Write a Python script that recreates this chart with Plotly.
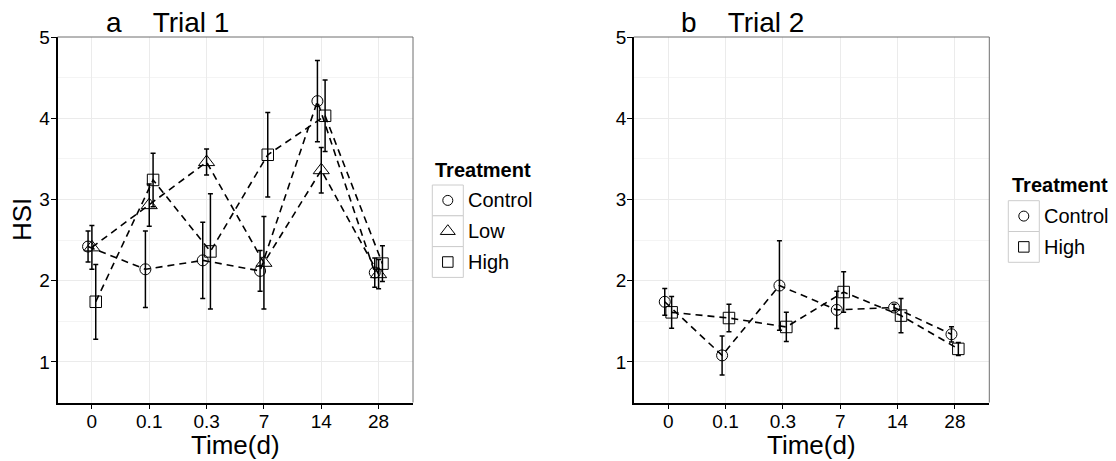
import plotly.graph_objects as go

# ---- data -------------------------------------------------------------
times = ["0", "0.1", "0.3", "7", "14", "28"]

# Trial 1 (mean HSI and error)
t1_control = [2.42, 2.14, 2.25, 2.12, 4.21, 2.10]
t1_control_err = [0.19, 0.47, 0.47, 0.25, 0.50, 0.18]
t1_low = [2.41, 2.93, 3.46, 2.22, 3.36, 2.08]
t1_low_err = [0.27, 0.26, 0.16, 0.57, 0.28, 0.18]
t1_high = [1.74, 3.24, 2.36, 3.55, 4.03, 2.21]
t1_high_err = [0.46, 0.33, 0.71, 0.52, 0.44, 0.22]

# Trial 2 (mean HSI and error)
t2_control = [1.74, 1.08, 1.94, 1.64, 1.67, 1.34]
t2_control_err = [0.165, 0.24, 0.55, 0.23, 0.04, 0.094]
t2_high = [1.61, 1.54, 1.43, 1.86, 1.57, 1.16]
t2_high_err = [0.195, 0.17, 0.18, 0.25, 0.21, 0.08]

# ---- geometry helpers (pixel -> paper) --------------------------------
W, H = 1116, 461
FONT = "Liberation Sans, Arial, Helvetica, sans-serif"


def px(x):
    return x / W


def py(y):
    return 1 - y / H


Y_DOM = [py(402.5), py(37.0)]
XA_DOM = [px(57.5), px(413.0)]
XB_DOM = [px(633.8), px(989.3)]

SYMBOLS = {"Control": "circle-open", "Low": "triangle-up-open", "High": "square-open"}
SIZES = {"Control": 11, "Low": 14, "High": 11.5}
DASH = "7px,5px"

fig = go.Figure()


def add_series(name, means, errs, offset, xref, yref):
    xs = [i + offset for i in range(len(times))]
    fig.add_trace(go.Scatter(
        x=xs, y=means, name=name, mode="lines+markers",
        xaxis=xref, yaxis=yref, showlegend=False,
        line=dict(color="black", width=1.6, dash=DASH),
        marker=dict(symbol=SYMBOLS[name], size=SIZES[name],
                    color="black", line=dict(color="black", width=1)),
        error_y=dict(type="data", array=errs, visible=True,
                     color="black", thickness=1.5, width=2.5),
        cliponaxis=False,
    ))


# Trial 1: three treatments dodged around each time point
add_series("Control", t1_control, t1_control_err, -0.067, "x", "y")
add_series("Low", t1_low, t1_low_err, 0.0, "x", "y")
add_series("High", t1_high, t1_high_err, 0.067, "x", "y")

# Trial 2: two treatments
add_series("Control", t2_control, t2_control_err, -0.06, "x2", "y2")
add_series("High", t2_high, t2_high_err, 0.06, "x2", "y2")

# ---- legends drawn on a full-figure pixel axis -----------------------
legend_specs = [
    dict(box_x0=432.3, title_x=433.0, title_y=170.0, row0=185.0,
         names=["Control", "Low", "High"]),
    dict(box_x0=1008.3, title_x=1009.5, title_y=185.5, row0=200.7,
         names=["Control", "High"]),
]
KEY_W, KEY_H = 31.0, 30.8

shapes = []
annotations = []
for spec in legend_specs:
    annotations.append(dict(
        text="<b>Treatment</b>", x=px(spec["title_x"]), y=py(spec["title_y"]),
        xref="paper", yref="paper", xanchor="left", yanchor="middle",
        showarrow=False, font=dict(family=FONT, size=20, color="black")))
    for k, name in enumerate(spec["names"]):
        top = spec["row0"] + k * KEY_H
        shapes.append(dict(
            type="rect", xref="paper", yref="paper",
            x0=px(spec["box_x0"]), x1=px(spec["box_x0"] + KEY_W),
            y0=py(top + KEY_H), y1=py(top),
            line=dict(color="#CCCCCC", width=1), fillcolor="white",
            layer="below"))
        cx, cy = spec["box_x0"] + KEY_W / 2, top + KEY_H / 2
        fig.add_trace(go.Scatter(
            x=[cx], y=[cy], mode="markers", xaxis="x3", yaxis="y3",
            showlegend=False, hoverinfo="skip",
            marker=dict(symbol=SYMBOLS[name], size=SIZES[name] - 1,
                        color="black", line=dict(color="black", width=1))))
        annotations.append(dict(
            text=name, x=px(spec["box_x0"] + KEY_W + 3), y=py(cy),
            xref="paper", yref="paper", xanchor="left", yanchor="middle",
            showarrow=False, font=dict(family=FONT, size=20, color="black")))

# panel titles
annotations.append(dict(
    text="a\u00a0\u00a0\u00a0\u00a0Trial 1", x=px(103.5), y=py(22.5),
    xref="paper", yref="paper", xanchor="left", yanchor="middle",
    showarrow=False, font=dict(family=FONT, size=28, color="black")))
annotations.append(dict(
    text="b\u00a0\u00a0\u00a0\u00a0Trial 2", x=px(679.0), y=py(22.5),
    xref="paper", yref="paper", xanchor="left", yanchor="middle",
    showarrow=False, font=dict(family=FONT, size=28, color="black")))

# axis titles
for x0, x1 in (XA_DOM, XB_DOM):
    annotations.append(dict(
        text="Time(d)", x=(x0 + x1) / 2, y=py(444.5),
        xref="paper", yref="paper", xanchor="center", yanchor="middle",
        showarrow=False, font=dict(family=FONT, size=26, color="black")))
annotations.append(dict(
    text="HSI", x=px(22.0), y=py(220.0), textangle=-90,
    xref="paper", yref="paper", xanchor="center", yanchor="middle",
    showarrow=False, font=dict(family=FONT, size=26, color="black")))

# grey top/right panel borders
for xd in ("x", "x2"):
    yd = "y" if xd == "x" else "y2"
    for (a0, b0, a1, b1) in ((0, 1, 1, 1), (1, 0, 1, 1)):
        shapes.append(dict(
            type="line", xref=f"{xd} domain", yref=f"{yd} domain",
            x0=a0, y0=b0, x1=a1, y1=b1,
            line=dict(color="#6E6E6E", width=1)))

x_common = dict(
    range=[-0.6, 5.6], tickmode="array", tickvals=list(range(len(times))),
    ticktext=times, showgrid=True, gridcolor="#EBEBEB", gridwidth=1,
    zeroline=False, showline=True, linecolor="black", linewidth=1.5,
    ticks="outside", ticklen=5, tickwidth=1.2, tickcolor="black",
    ticklabelstandoff=-4,
    tickfont=dict(family=FONT, size=19, color="black"), fixedrange=True,
    automargin=False)
y_common = dict(
    range=[0.5, 5.0], tick0=0, dtick=1, showgrid=True, gridcolor="#EBEBEB",
    gridwidth=1, zeroline=False, showline=True, linecolor="black",
    linewidth=1.5, ticks="outside", ticklen=5, tickwidth=1.2,
    tickcolor="black", ticklabelstandoff=-3,
    tickfont=dict(family=FONT, size=19, color="black"),
    minor=dict(dtick=0.5, tick0=0, showgrid=True, gridcolor="#F4F4F4",
               gridwidth=1, ticks=""),
    fixedrange=True, automargin=False)

fig.update_layout(
    width=W, height=H,
    margin=dict(l=0, r=0, t=0, b=0, pad=0, autoexpand=False),
    paper_bgcolor="white", plot_bgcolor="rgba(0,0,0,0)",
    showlegend=False,
    xaxis=dict(domain=XA_DOM, anchor="y", **x_common),
    yaxis=dict(domain=Y_DOM, anchor="x", **y_common),
    xaxis2=dict(domain=XB_DOM, anchor="y2", **x_common),
    yaxis2=dict(domain=Y_DOM, anchor="x2", **y_common),
    xaxis3=dict(domain=[0, 1], range=[0, W], visible=False, anchor="y3",
                fixedrange=True, automargin=False),
    yaxis3=dict(domain=[0, 1], range=[H, 0], visible=False, anchor="x3",
                fixedrange=True, automargin=False),
    shapes=shapes, annotations=annotations,
)

fig.write_html("out.html", config={"displayModeBar": False})
